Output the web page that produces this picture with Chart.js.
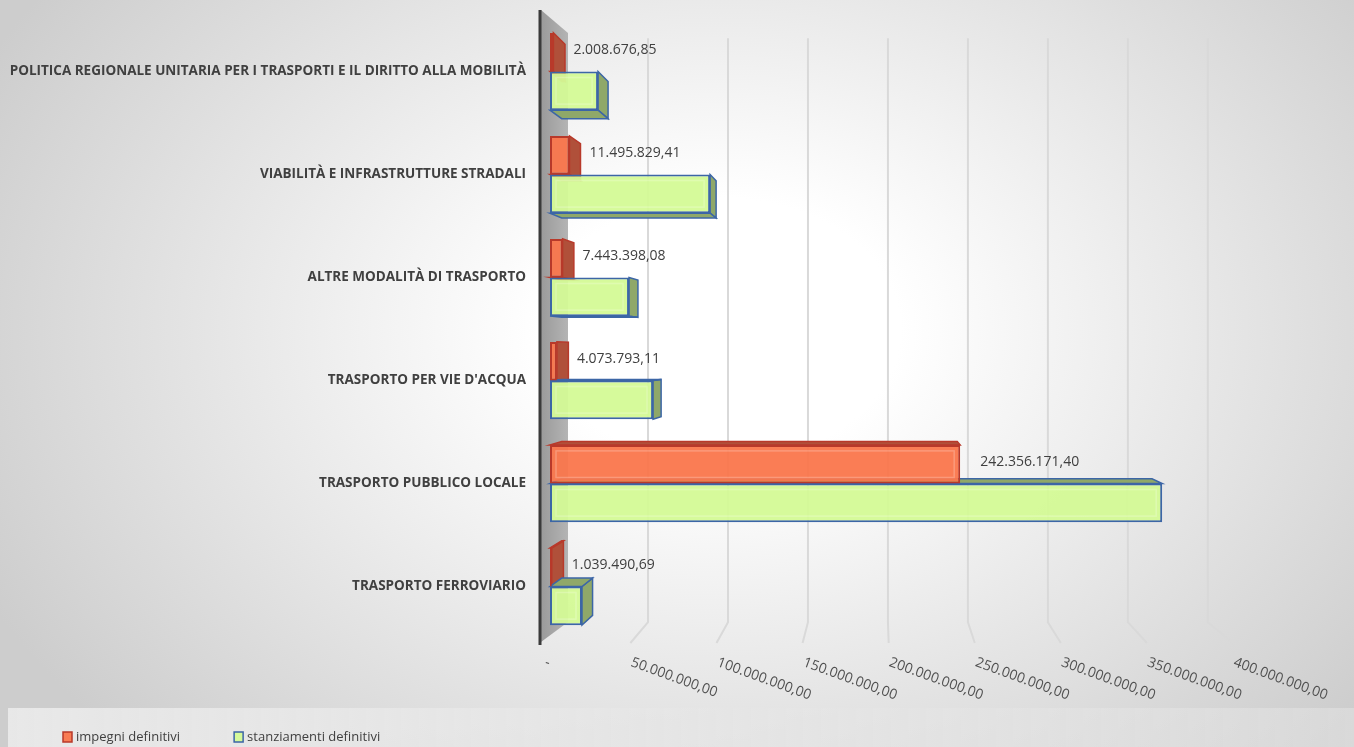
<!DOCTYPE html>
<html>
<head>
<meta charset="utf-8">
<script src="https://cdn.jsdelivr.net/npm/chart.js@4.4.1/dist/chart.umd.min.js"></script>
<style>
  html, body { margin: 0; padding: 0; }
  body {
    width: 1354px; height: 747px; overflow: hidden;
    background: radial-gradient(ellipse 820px 600px at 720px 330px, #ffffff 0%, #ffffff 22%, #cdcdcd 100%);
  }
</style>
</head>
<body>
<canvas id="spese" width="1354" height="747"></canvas>
<script>
const categorie = [
  'POLITICA REGIONALE UNITARIA PER I TRASPORTI E IL DIRITTO ALLA MOBILITÀ',
  'VIABILITÀ E INFRASTRUTTURE STRADALI',
  'ALTRE MODALITÀ DI TRASPORTO',
  "TRASPORTO PER VIE D'ACQUA",
  'TRASPORTO PUBBLICO LOCALE',
  'TRASPORTO FERROVIARIO'
]
const impegni = [2008676.85, 11495829.41, 7443398.08, 4073793.11, 242356171.40, 1039490.69]
const stanziamenti = [28400000, 94600000, 46700000, 60900000, 361700000, 18900000]
const tickValori = [0, 50000000, 100000000, 150000000, 200000000, 250000000, 300000000, 350000000, 400000000]

// formato italiano 1.234.567,89
function formatta(v) {
  if (v === 0) return '-'
  const parti = v.toFixed(2).split('.')
  const intero = parti[0].replace(/\B(?=(\d{3})+(?!\d))/g, '.')
  return intero + ',' + parti[1]
}

const TESTO = '#404040'
const T_BARRA = 0.0357   // profondita delle barre
const T_PARETE = 0.055   // profondita della parete di fondo

function fuga(chart) {
  const a = chart.chartArea
  return { vx: a.left + 0.485 * (a.right - a.left), vy: a.top + 0.534 * (a.bottom - a.top) }
}

// parete, griglia ed etichette asse x
const sfondo3d = {
  id: 'sfondo3d',
  beforeDatasetsDraw(chart) {
    const ctx = chart.ctx
    const a = chart.chartArea
    const xs = chart.scales.x
    const { vx, vy } = fuga(chart)
    const floorY = a.bottom + 5

    ctx.save()
    // parete sinistra
    const g = ctx.createLinearGradient(a.left - 9, 0, a.left + 18, 0)
    g.addColorStop(0, '#9a9a9a')
    g.addColorStop(1, '#b4b4b4')
    ctx.fillStyle = g
    ctx.beginPath()
    ctx.moveTo(a.left - 9, a.top - 10)
    ctx.lineTo(a.left + 18, a.top + 13)
    ctx.lineTo(a.left + 18, a.bottom - 16)
    ctx.lineTo(a.left - 9, a.bottom + 4)
    ctx.closePath()
    ctx.fill()
    ctx.strokeStyle = '#3a3a3a'
    ctx.lineWidth = 3
    ctx.beginPath()
    ctx.moveTo(a.left - 10, a.top - 10)
    ctx.lineTo(a.left - 10, a.bottom + 7)
    ctx.stroke()

    // griglia
    ctx.strokeStyle = '#d9d9d9'
    ctx.lineWidth = 2
    for (const v of tickValori) {
      const xf = xs.getPixelForValue(v)
      const xb = xf + (vx - xf) * T_PARETE
      const yt = a.top + (vy - a.top) * T_PARETE
      const yb = a.bottom + (vy - a.bottom) * T_PARETE
      const xff = vx + (xb - vx) * (floorY - vy) / (yb - vy)
      if (v > 0) {
        ctx.beginPath()
        ctx.moveTo(xb, yt)
        ctx.lineTo(xb, yb)
        ctx.lineTo(xff, floorY)
        ctx.stroke()
      }
      ctx.save()
      ctx.translate(xff + 1, floorY + 19)
      ctx.rotate(20 * Math.PI / 180)
      ctx.fillStyle = '#505050'
      ctx.font = '14px "Open Sans"'
      ctx.textAlign = 'left'
      ctx.textBaseline = 'middle'
      ctx.fillText(formatta(v), 0, 0)
      ctx.restore()
    }

    // facce laterali delle barre
    chart.data.datasets.forEach((ds, i) => {
      const meta = chart.getDatasetMeta(i)
      meta.data.forEach(bar => {
        const x0 = Math.min(bar.base, bar.x), x1 = Math.max(bar.base, bar.x)
        const y0 = bar.y - bar.height / 2, y1 = bar.y + bar.height / 2
        const p = (x, y) => [x + (vx - x) * T_BARRA, y + (vy - y) * T_BARRA]
        ctx.fillStyle = ds.sideColor
        ctx.strokeStyle = ds.borderColor
        ctx.lineWidth = 1.5
        const faccia = pts => {
          ctx.beginPath()
          ctx.moveTo(pts[0][0], pts[0][1])
          for (let k = 1; k < pts.length; k++) ctx.lineTo(pts[k][0], pts[k][1])
          ctx.closePath()
          ctx.fill()
          ctx.stroke()
        }
        if (x1 < vx) faccia([[x1, y0], [x1, y1], p(x1, y1), p(x1, y0)])
        if (y1 < vy) faccia([[x0, y1], [x1, y1], p(x1, y1), p(x0, y1)])
        if (y0 > vy) faccia([[x0, y0], [x1, y0], p(x1, y0), p(x0, y0)])
      })
    })
    ctx.restore()
  },
  afterDatasetsDraw(chart) {
    const ctx = chart.ctx
    ctx.save()
    // riflesso interno
    chart.data.datasets.forEach((ds, i) => {
      chart.getDatasetMeta(i).data.forEach(bar => {
        const x0 = Math.min(bar.base, bar.x), x1 = Math.max(bar.base, bar.x)
        const y0 = bar.y - bar.height / 2
        if (x1 - x0 > 30) {
          ctx.strokeStyle = 'rgba(255,255,255,0.22)'
          ctx.lineWidth = 1.5
          ctx.strokeRect(x0 + 6, y0 + 6, x1 - x0 - 12, bar.height - 12)
        }
      })
    })
    // etichette dati (impegni)
    ctx.fillStyle = TESTO
    ctx.font = '14px "Open Sans"'
    ctx.textBaseline = 'middle'
    ctx.textAlign = 'left'
    chart.getDatasetMeta(0).data.forEach((bar, j) => {
      ctx.fillText(formatta(impegni[j]), bar.x + 20, bar.y - 2)
    })
    ctx.restore()
  },
  afterDraw(chart) {
    const ctx = chart.ctx
    ctx.save()
    const g = ctx.createLinearGradient(8, 0, chart.width, 0)
    g.addColorStop(0, 'rgba(235,235,235,0.9)')
    g.addColorStop(1, 'rgba(225,225,225,0.6)')
    ctx.fillStyle = g
    ctx.fillRect(8, 708, chart.width - 8, 39)
    let x = 63
    ctx.font = '13px "Open Sans"'
    ctx.textBaseline = 'middle'
    chart.data.datasets.forEach(ds => {
      ctx.fillStyle = ds.backgroundColor
      ctx.strokeStyle = ds.borderColor
      ctx.lineWidth = 1.5
      ctx.fillRect(x, 732, 9, 10)
      ctx.strokeRect(x, 732, 9, 10)
      ctx.fillStyle = TESTO
      ctx.fillText(ds.label, x + 13, 737)
      x += 13 + ctx.measureText(ds.label).width + 54
    })
    ctx.restore()
  }
}

const chartSpese = new Chart(document.getElementById('spese'), {
  type: 'bar',
  data: {
    labels: categorie,
    datasets: [{
      label: 'impegni definitivi',
      data: impegni,
      backgroundColor: 'rgba(250,118,76,0.95)',
      borderColor: '#b8392a',
      sideColor: '#b0503a',
      borderWidth: 2,
      borderSkipped: false
    }, {
      label: 'stanziamenti definitivi',
      data: stanziamenti,
      backgroundColor: 'rgba(212,250,150,0.95)',
      borderColor: '#3c66a6',
      sideColor: '#8fa869',
      borderWidth: 2,
      borderSkipped: false
    }]
  },
  options: {
    indexAxis: 'y',
    responsive: false,
    animation: false,
    devicePixelRatio: 1,
    layout: { padding: { left: 10, top: 20, right: 127, bottom: 109 } },
    datasets: { bar: { categoryPercentage: 0.75, barPercentage: 1 } },
    plugins: { legend: { display: false }, tooltip: { enabled: false } },
    scales: {
      x: {
        min: 0,
        max: 400000000,
        grid: { display: false },
        border: { display: false },
        ticks: { display: false },
        afterFit(s) { s.height = 0; s.paddingLeft = 0; s.paddingRight = 0 }
      },
      y: {
        grid: { display: false, drawTicks: false },
        border: { display: false },
        ticks: { color: TESTO, padding: 24, font: { family: 'Open Sans', size: 13.5, weight: 'bold' } },
        afterFit(s) { s.width = 540; s.paddingTop = 0; s.paddingBottom = 0 }
      }
    }
  },
  plugins: [sfondo3d]
})
</script>
</body>
</html>
